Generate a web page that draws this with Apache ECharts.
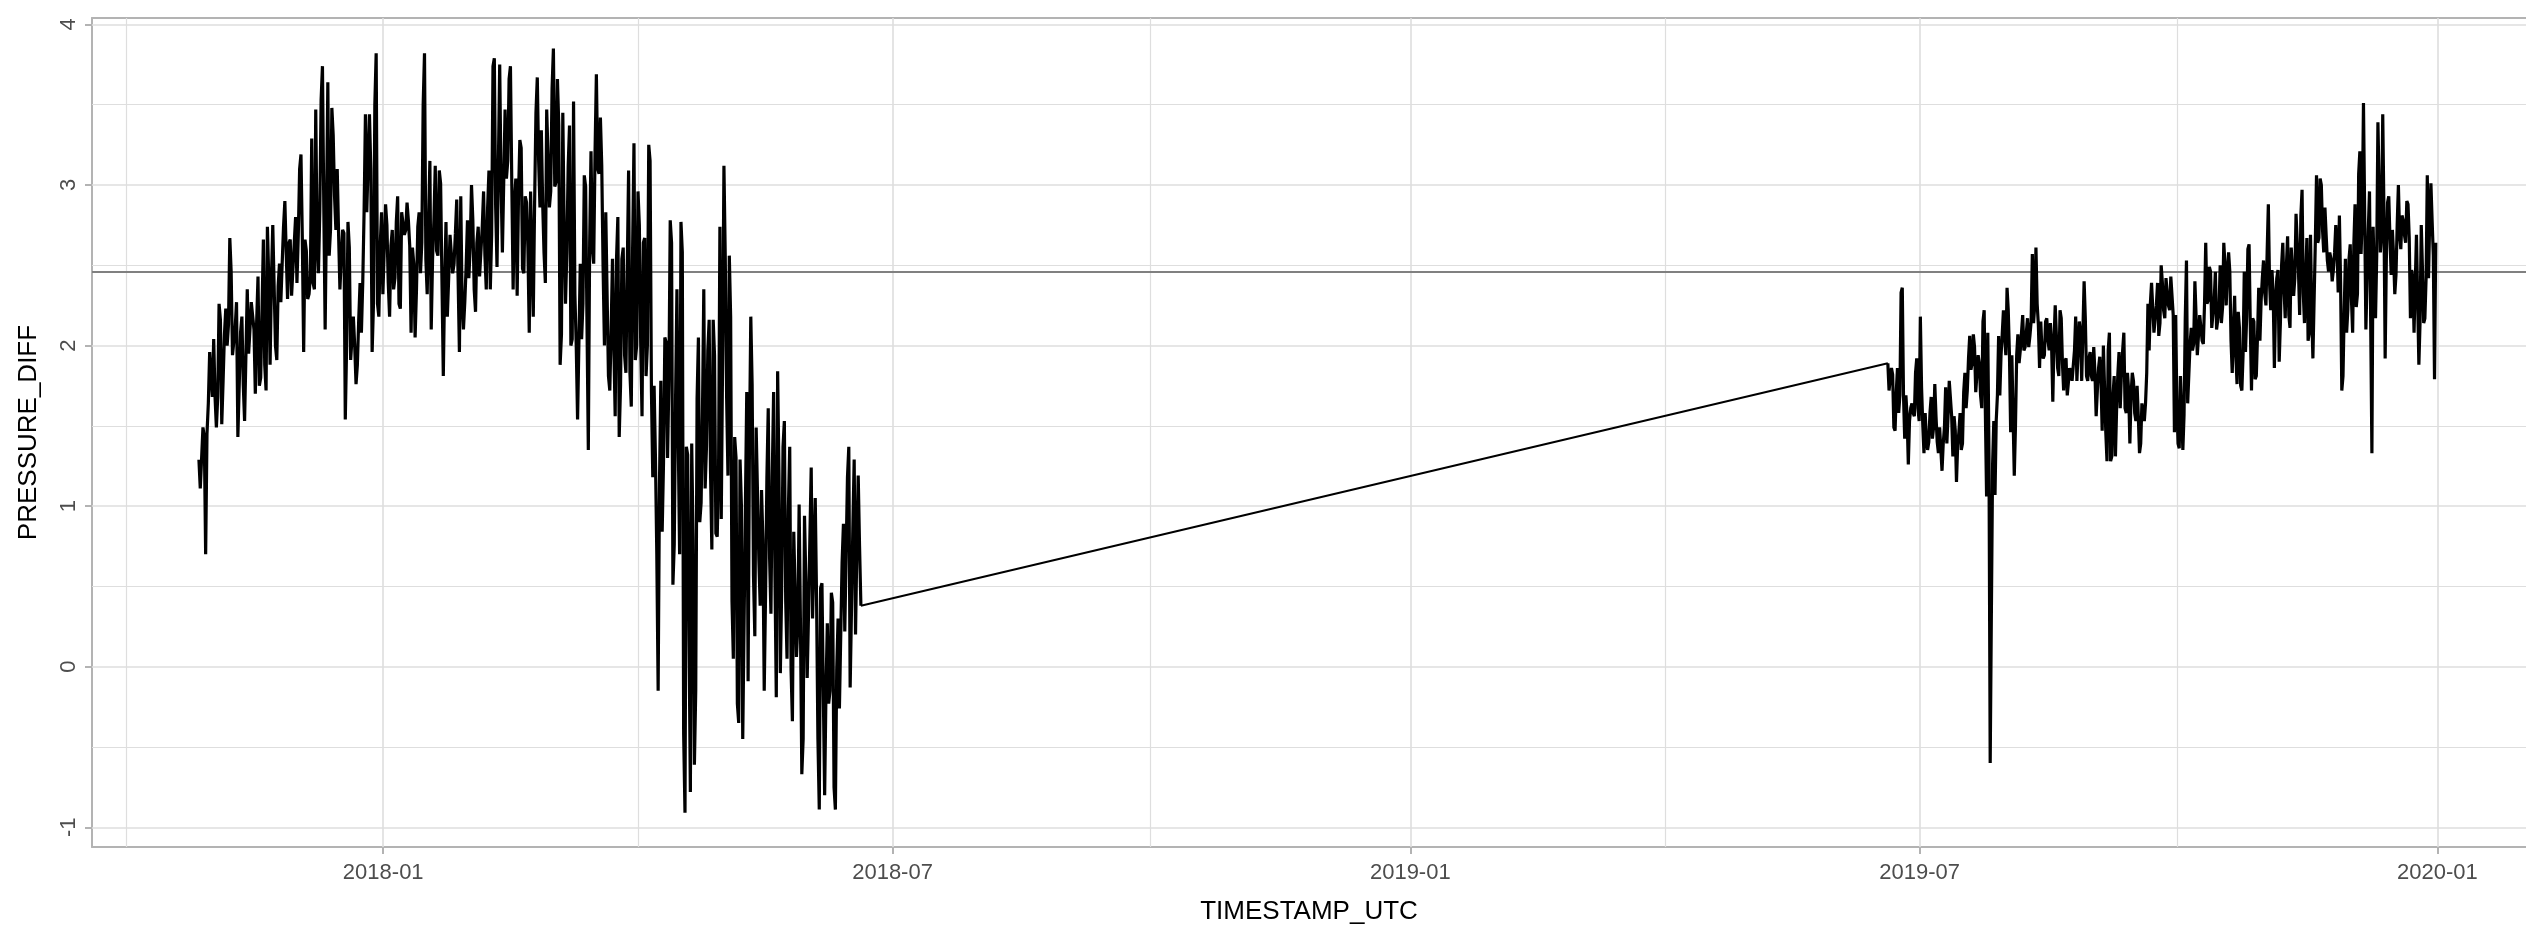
<!DOCTYPE html>
<html>
<head>
<meta charset="utf-8">
<script src="https://cdn.jsdelivr.net/npm/echarts@6/dist/echarts.min.js"></script>
<style>
  html, body { margin: 0; padding: 0; background: #fff; }
  #chart { width: 2526px; height: 930px; }
</style>
</head>
<body>
<div id="chart"></div>
<script>
// daily high / low readings, first run (late Oct 2017 - mid Jun 2018)
var seg1High = [
  1.29,1.49,1.43,1.64,1.96,2.04,1.68,2.26,2.16,2.07,
  2.23,2.67,2.46,2.11,2.27,2.08,2.18,1.94,2.35,2.27,
  2.26,2.15,2.43,2.23,2.66,2.74,2.42,2.75,2.37,2.37,
  2.51,2.74,2.90,2.64,2.66,2.64,2.80,3.10,3.19,2.66,
  2.59,2.43,3.29,3.47,2.64,3.53,3.74,2.83,3.64,3.48,
  3.31,3.10,2.70,2.72,2.70,2.77,2.61,2.18,2.00,2.16,
  2.39,2.83,3.44,3.44,3.10,3.50,3.82,2.62,2.83,2.88,
  2.75,2.62,2.72,2.77,2.93,2.83,2.83,2.89,2.78,2.61,
  2.51,2.74,2.83,
  3.50,3.82,2.77,3.15,2.78,3.12,3.09,3.01,2.39,2.77,
  2.69,2.70,2.70,2.91,2.93,2.27,2.49,2.78,3.00,2.78,
  2.64,2.74,2.74,2.96,2.86,3.09,3.74,3.79,3.12,3.75,
  3.02,3.47,3.66,3.74,2.89,3.04,3.28,3.23,2.93,2.89,
  2.96,2.96,3.45,3.67,3.34,2.89,3.47,3.18,3.60,3.85,
  3.66,3.37,3.45,2.74,3.12,3.37,3.52,2.32,2.02,2.51,
  3.06,2.99,2.64,3.21,3.20,3.69,3.42,3.12,2.83,2.31,
  2.10,2.54,2.54,2.80,2.54,2.61,2.48,3.09,2.61,3.26,
  2.96,2.75,2.64,2.67,3.25,3.15,1.75,1.30,1.14,
  1.78,2.05,2.02,2.78,2.64,1.68,2.35,2.77,2.58,1.37,
  1.32,1.39,0.80,1.67,2.05,1.57,2.35,1.97,2.16,2.16,
  1.94,1.22,2.74,3.12,2.54,2.56,2.18,1.43,1.30,1.29,
  1.01,1.01,1.71,2.18,1.76,1.49,1.49,1.10,0.79,1.18,
  1.61,1.19,1.71,1.84,1.19,1.37,1.53,0.98,1.37,0.84,
  0.47,1.01,0.25,0.94,0.54,0.80,1.24,1.05,0.41,0.49,
  0.52,-0.15,0.27,0.46,0.40,-0.02,0.30,0.65,0.89,1.18,
  1.37,0.86,1.29,1.19,0.75
];
var seg1Low = [
  1.11,1.30,0.70,1.45,1.81,1.68,1.49,1.68,1.51,1.78,
  2.00,2.13,1.94,1.94,1.43,1.75,1.76,1.53,1.95,2.10,
  2.10,1.70,1.75,1.80,1.88,1.72,1.88,2.42,2.00,1.91,
  2.27,2.51,2.58,2.29,2.31,2.32,2.39,2.69,2.67,1.96,
  2.29,2.32,2.39,2.35,2.45,2.83,2.86,2.10,2.56,2.72,
  2.93,2.72,2.35,2.54,1.54,2.00,1.91,1.92,1.76,1.88,
  2.08,2.39,2.83,2.83,1.96,2.26,2.26,2.18,2.32,2.32,
  2.39,2.18,2.35,2.42,2.26,2.23,2.69,2.72,2.62,2.08,
  2.05,2.34,2.45,
  2.64,2.54,2.32,2.10,2.54,2.59,2.56,2.40,1.81,2.18,
  2.42,2.45,2.51,2.43,1.96,2.10,2.27,2.42,2.61,2.35,
  2.21,2.43,2.43,2.56,2.35,2.35,2.69,2.86,2.49,3.02,
  2.58,3.04,3.15,3.02,2.35,2.31,2.93,2.48,2.45,2.61,
  2.08,2.18,2.89,3.15,2.86,2.58,2.39,2.86,2.96,2.99,
  3.02,1.88,2.07,2.26,2.58,2.00,2.04,2.00,1.54,2.04,
  2.26,2.15,1.35,2.61,2.51,3.10,3.07,2.49,2.00,1.81,
  1.72,2.00,1.56,1.43,1.75,1.94,1.83,1.83,1.62,1.91,
  2.00,2.02,1.56,1.81,2.00,1.72,1.18,0.70,-0.15,
  0.84,1.27,1.30,1.78,0.51,0.76,1.40,0.70,-0.42,-0.91,
  0.20,-0.78,-0.61,-0.15,0.90,1.02,1.11,1.37,1.22,0.73,
  0.83,0.81,0.92,1.91,1.68,1.19,0.41,0.05,-0.23,-0.35,
  -0.45,0.27,-0.09,1.37,0.57,0.19,0.67,0.38,-0.15,0.45,
  0.68,0.33,0.57,-0.19,-0.04,0.48,0.41,0.05,-0.02,-0.34,
  0.06,0.25,-0.67,-0.45,-0.07,0.33,0.30,0.30,-0.45,-0.89,
  -0.15,-0.80,-0.23,-0.15,-0.75,-0.89,-0.26,0.20,0.22,0.70,
  -0.13,0.36,0.20,0.75,0.38
];

// second run (mid Jun 2019 - end of Dec 2019)
var seg2High = [
  1.89,1.86,1.82,1.71,1.86,2.33,2.36,1.69,1.56,1.61,
  1.64,1.83,1.92,2.18,1.74,1.58,1.42,1.58,1.68,1.76,
  1.56,1.49,1.50,1.49,1.74,1.78,1.78,1.56,1.47,1.46,
  1.58,1.71,1.83,1.92,2.06,2.07,1.99,1.94,1.89,2.15,
  2.22,2.08,1.31,1.26,1.53,1.69,2.06,2.07,2.22,2.36,
  2.22,1.94,1.94,1.94,2.07,2.08,2.19,2.08,2.17,2.15,
  2.57,2.61,2.26,2.15,1.97,2.15,2.17,2.14,2.00,2.25,
  2.25,2.22,2.17,1.90,1.92,1.86,1.83,1.97,2.18,2.15,
  2.08,2.40,2.17,1.92,1.96,1.99,1.83,1.86,1.93,2.00,
  2.00,1.97,2.08,1.69,1.81,1.82,1.96,1.97,2.08,1.83,
  1.72,1.83,1.78,1.75,1.56,1.64,1.64,1.83,2.26,2.39,
  2.40,2.25,2.39,2.50,
  2.39,2.42,2.33,2.43,2.43,2.19,1.65,1.81,1.58,2.17,
  2.53,2.01,2.11,2.40,2.18,2.19,2.11,2.26,2.64,2.49,
  2.46,2.28,2.46,2.22,2.50,2.64,2.50,2.58,2.46,2.11,
  2.31,2.21,2.11,1.94,2.46,2.60,2.63,2.17,2.15,2.06,
  2.36,2.42,2.53,2.58,2.88,2.47,2.33,2.42,2.47,2.50,
  2.64,2.50,2.68,2.61,2.47,2.82,2.83,2.81,2.97,2.42,
  2.67,2.69,2.21,2.64,3.06,3.04,3.00,2.86,2.69,2.58,
  2.54,2.58,2.75,2.81,2.39,2.22,2.54,2.54,2.63,2.63,
  2.88,3.07,3.21,3.51,2.82,2.72,2.96,2.74,2.42,3.39,
  2.99,3.44,2.83,2.89,2.93,2.72,2.56,2.75,3.00,2.81,
  2.78,2.90,2.88,2.47,2.42,2.69,2.69,2.75,2.47,2.42,
  3.06,3.01,2.78,2.64
];
var seg2Low = [
  1.72,1.71,1.49,1.47,1.58,1.69,1.69,1.42,1.26,1.53,
  1.58,1.56,1.61,1.53,1.51,1.33,1.35,1.40,1.42,1.49,
  1.40,1.33,1.22,1.39,1.39,1.56,1.56,1.31,1.15,1.38,
  1.35,1.39,1.61,1.72,1.85,1.89,1.71,1.71,1.69,1.61,
  1.58,1.06,-0.60,0.35,1.07,1.53,1.69,1.94,2.06,1.94,
  1.94,1.46,1.19,1.50,1.89,1.97,1.97,1.99,1.99,2.06,
  2.14,2.25,2.13,1.86,1.92,1.94,2.03,1.97,1.65,2.03,
  1.86,1.81,1.89,1.72,1.69,1.68,1.78,1.78,1.78,1.78,
  1.78,1.78,1.81,1.78,1.81,1.78,1.56,1.72,1.78,1.47,
  1.46,1.28,1.28,1.31,1.31,1.61,1.61,1.83,1.61,1.58,
  1.39,1.69,1.58,1.53,1.33,1.39,1.53,1.64,1.97,2.26,
  2.08,2.07,2.06,2.14,
  2.22,2.17,2.25,2.22,2.19,1.46,1.39,1.36,1.35,1.57,
  1.64,1.64,1.97,2.01,1.94,1.94,2.03,2.01,2.26,2.28,
  2.11,2.10,2.10,2.11,2.14,2.24,2.25,2.46,2.03,1.83,
  1.94,1.76,1.75,1.72,1.96,2.18,2.13,1.72,1.79,1.81,
  2.03,2.28,2.33,2.25,2.39,2.22,1.86,2.25,1.90,2.14,
  2.36,2.17,2.19,2.11,2.31,2.42,2.47,2.19,2.33,2.14,
  2.03,2.08,1.92,1.92,2.64,2.67,2.72,2.58,2.53,2.46,
  2.40,2.47,2.61,2.33,1.72,1.81,2.08,2.22,2.29,2.08,
  2.24,2.32,2.57,2.81,2.10,2.42,2.14,1.33,2.17,2.56,
  2.58,2.69,1.92,2.54,2.67,2.44,2.32,2.44,2.69,2.60,
  2.69,2.64,2.67,2.17,2.08,2.07,1.88,2.15,2.14,2.17,
  2.42,2.78,2.56,1.79
];

// time span of each run (UTC)
var seg1Start = Date.UTC(2017, 9, 27, 12);
var seg1End = Date.UTC(2018, 5, 19, 18);
var seg2Start = Date.UTC(2019, 5, 19, 17);
var seg2End = Date.UTC(2019, 11, 31, 10);

var refLevel = 2.46;

var xMajorTicks = [Date.UTC(2018, 0, 1), Date.UTC(2018, 6, 1), Date.UTC(2019, 0, 1), Date.UTC(2019, 6, 1), Date.UTC(2020, 0, 1)];
var xMinorTicks = [Date.UTC(2017, 9, 1, 12), Date.UTC(2018, 3, 1, 12), Date.UTC(2018, 8, 30, 12), Date.UTC(2019, 3, 1, 12), Date.UTC(2019, 8, 30, 12)];
var yMajorTicks = [-1, 0, 1, 2, 3, 4];
var yMinorTicks = [-0.5, 0.5, 1.5, 2.5, 3.5];

// visible window: the panel runs on past the right edge of the picture
var xMin = Date.UTC(2017, 8, 19, 12);
var xMax = Date.UTC(2020, 1, 1, 12);
var yMin = -1.123;
var yMax = 4.04;

// two readings per day, alternating order so the day-to-day joins stay short
function buildRun(start, end, hi, lo, endOnLow) {
  var n = hi.length;
  var step = (end - start) / (2 * n - 1);
  var pts = [];
  for (var k = 0; k < n; k++) {
    var hiFirst = endOnLow ? (n - 1 - k) % 2 === 0 : k % 2 === 0;
    pts.push([start + 2 * k * step, hiFirst ? hi[k] : lo[k]]);
    pts.push([start + (2 * k + 1) * step, hiFirst ? lo[k] : hi[k]]);
  }
  return pts;
}

var run1 = buildRun(seg1Start, seg1End, seg1High, seg1Low, true);
var run2 = buildRun(seg2Start, seg2End, seg2High, seg2Low, false);
// the gap between the runs is bridged by a single straight segment
var bridge = [run1[run1.length - 1], run2[0]];

var font = 'Liberation Sans, Arial, sans-serif';
var frame = { color: '#b3b3b3', width: 2 };

function fmtMonth(v) {
  var d = new Date(v);
  var m = d.getUTCMonth() + 1;
  return d.getUTCFullYear() + '-' + (m < 10 ? '0' + m : m);
}

var gridLines = [];
xMajorTicks.forEach(function (t) { gridLines.push({ xAxis: t, lineStyle: { width: 1.6 } }); });
xMinorTicks.forEach(function (t) { gridLines.push({ xAxis: t, lineStyle: { width: 1.2 } }); });
yMajorTicks.forEach(function (v) { gridLines.push({ yAxis: v, lineStyle: { width: 1.6 } }); });
yMinorTicks.forEach(function (v) { gridLines.push({ yAxis: v, lineStyle: { width: 1.2 } }); });

function runSeries(data, width) {
  return {
    name: 'PRESSURE_DIFF',
    type: 'line',
    z: 3,
    data: data,
    showSymbol: false,
    symbol: 'none',
    silent: true,
    sampling: null,
    lineStyle: { color: '#000000', width: width }
  };
}

var chart = echarts.init(document.getElementById('chart'));
chart.setOption({
  animation: false,
  backgroundColor: '#ffffff',
  grid: { left: 92, right: 0, top: 18, bottom: 83, show: false },
  xAxis: [
    {
      type: 'value',
      min: xMin,
      max: xMax,
      name: 'TIMESTAMP_UTC',
      nameLocation: 'middle',
      nameGap: 52,
      nameTextStyle: { fontFamily: font, fontSize: 26, color: '#000' },
      axisLine: { show: true, onZero: false, lineStyle: frame },
      axisTick: { show: true, customValues: xMajorTicks, length: 7, lineStyle: frame },
      axisLabel: { customValues: xMajorTicks, formatter: fmtMonth, margin: 15, fontFamily: font, fontSize: 22, color: '#4d4d4d' },
      splitLine: { show: false }
    },
    {
      type: 'value',
      position: 'top',
      min: xMin,
      max: xMax,
      axisLine: { show: true, onZero: false, lineStyle: frame },
      axisTick: { show: false },
      axisLabel: { show: false },
      splitLine: { show: false }
    }
  ],
  yAxis: {
    type: 'value',
    min: yMin,
    max: yMax,
    name: 'PRESSURE_DIFF',
    nameLocation: 'middle',
    nameGap: 50,
    nameTextStyle: { fontFamily: font, fontSize: 26, color: '#000' },
    axisLine: { show: true, onZero: false, lineStyle: frame },
    axisTick: { show: true, customValues: yMajorTicks, length: 7, lineStyle: frame },
    axisLabel: { customValues: yMajorTicks, rotate: 90, margin: 12, fontFamily: font, fontSize: 22, color: '#4d4d4d' },
    splitLine: { show: false }
  },
  series: [
    {
      name: 'grid',
      type: 'line',
      data: [],
      silent: true,
      markLine: {
        silent: true,
        z: 1,
        symbol: ['none', 'none'],
        label: { show: false },
        lineStyle: { color: '#dedede', type: 'solid' },
        emphasis: { disabled: true },
        data: gridLines
      }
    },
    {
      name: 'ref',
      type: 'line',
      data: [],
      silent: true,
      markLine: {
        silent: true,
        z: 2,
        symbol: ['none', 'none'],
        label: { show: false },
        lineStyle: { color: '#808080', width: 2, type: 'solid' },
        emphasis: { disabled: true },
        data: [{ yAxis: refLevel }]
      }
    },
    runSeries(run1, 3.2),
    runSeries(bridge, 2),
    runSeries(run2, 3.2)
  ]
});
</script>
</body>
</html>
